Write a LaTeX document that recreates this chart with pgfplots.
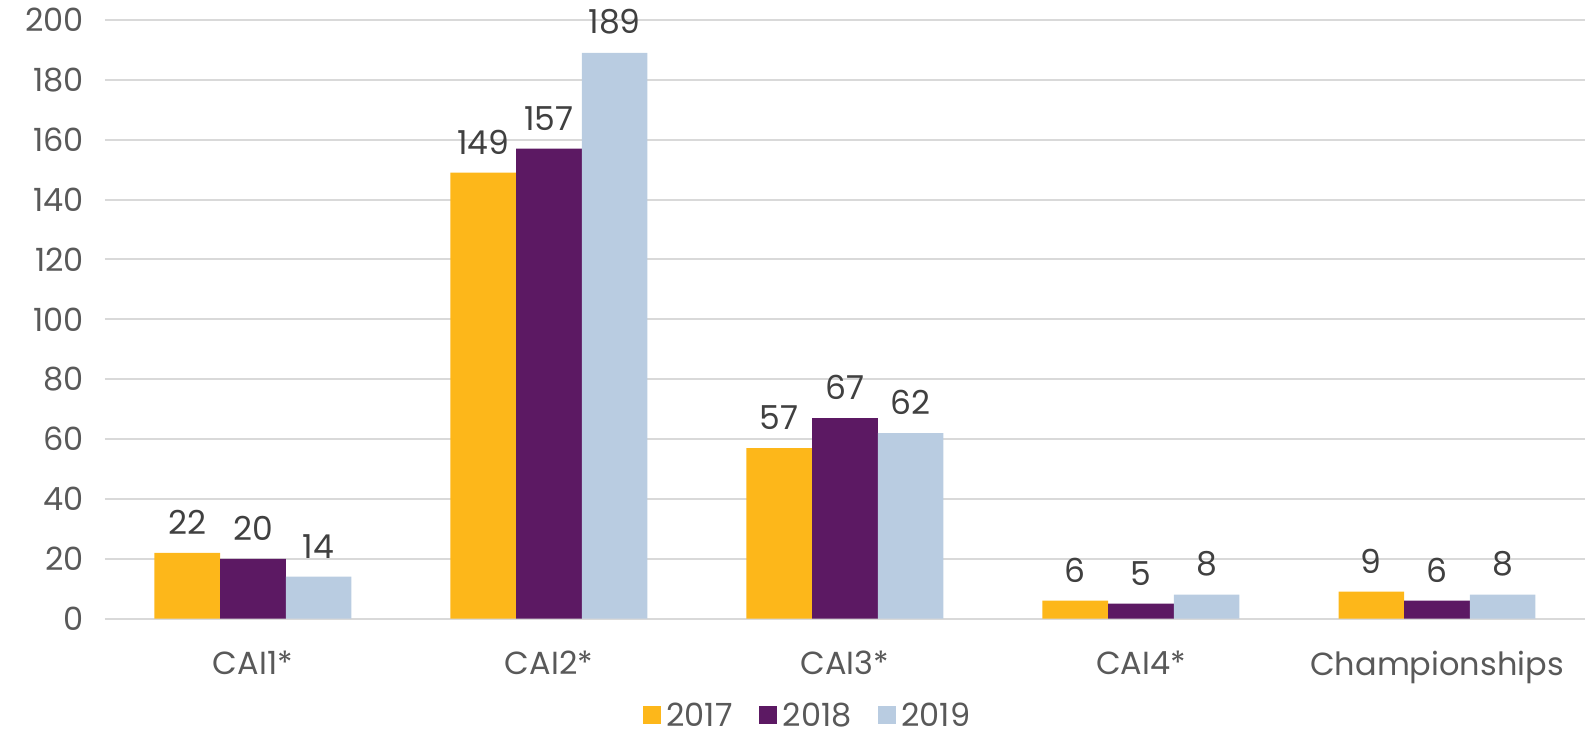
\documentclass[border=0pt]{standalone}
\usepackage{pgfplots}
\pgfplotsset{compat=1.18}
\usepackage{fontspec}
\setmainfont{Poppins}
\definecolor{cA}{HTML}{FDB71A}
\definecolor{cB}{HTML}{5C1963}
\definecolor{cC}{HTML}{B9CCE1}
\definecolor{txt}{HTML}{595959}
\definecolor{lab}{HTML}{404040}
\definecolor{grid}{HTML}{D9D9D9}
\begin{document}
\begin{tikzpicture}
\useasboundingbox (-52.5pt,-58.5pt) rectangle (740.5pt,309.5pt);
\begin{axis}[
  at={(0,0)}, anchor=south west,
  scale only axis,
  width=740.5pt, height=299.5pt,
  ybar, bar width=32.85pt,
  xmin=-0.5, xmax=4.5, ymin=0, ymax=200,
  ytick={0,20,...,200},
  xtick={0,1,2,3,4},
  xticklabels={CAI1*,CAI2*,CAI3*,CAI4*,Championships},
  axis line style={draw=none},
  axis x line*=bottom,
  x axis line style={draw=grid, line width=1pt},
  tick style={draw=none},
  ymajorgrids, grid style={draw=grid, line width=1pt},
  /pgf/number format/assume math mode=true,
  tick label style={font=\fontsize{16}{19}\selectfont, text=txt},
  yticklabel style={xshift=-7pt},
  xticklabel style={yshift=-8.5pt},
  nodes near coords,
  every node near coord/.append style={font=\fontsize{16.5}{19}\selectfont, text=lab, inner sep=0pt, yshift=9pt, anchor=south},
  legend style={at={(0.476,-0.161)}, anchor=center, draw=none, fill=none,
    font=\fontsize{16}{19}\selectfont, text=txt, legend columns=-1,
    inner sep=0pt, outer sep=0pt,
    nodes={inner xsep=3pt, inner ysep=0pt, text depth=0pt},
    /tikz/every even column/.append style={column sep=10pt}},
  legend image code/.code={\fill[#1] (0pt,-4.5pt) rectangle (9pt,4.5pt);},
  legend cell align=left,
]
\addplot[fill=cA, draw=none, bar shift=-32.85pt] coordinates {(0,22) (1,149) (2,57) (3,6) (4,9)};
\addplot[fill=cB, draw=none, bar shift=0pt] coordinates {(0,20) (1,157) (2,67) (3,5) (4,6)};
\addplot[fill=cC, draw=none, bar shift=32.85pt] coordinates {(0,14) (1,189) (2,62) (3,8) (4,8)};
\legend{2017,2018,2019}
\end{axis}
\end{tikzpicture}
\end{document}
